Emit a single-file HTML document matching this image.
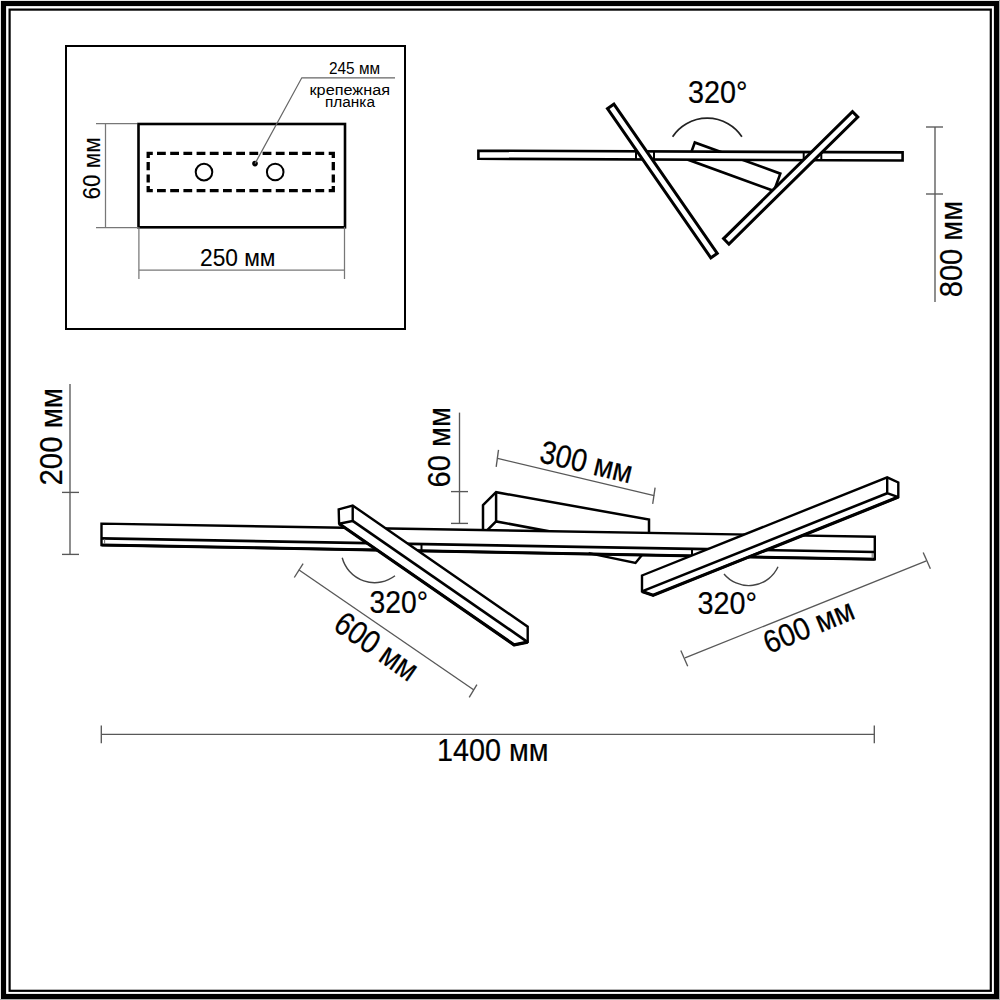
<!DOCTYPE html>
<html><head><meta charset="utf-8">
<style>
html,body{margin:0;padding:0;background:#fff;width:1000px;height:1000px;overflow:hidden}
svg{display:block}
text{font-family:"Liberation Sans",sans-serif;fill:#000;stroke:#000;stroke-width:0.22}
.b{fill:#fff;stroke:#000;stroke-linejoin:miter}
.d{fill:none;stroke:#585858;stroke-width:1.35}
.di{fill:none;stroke:#777;stroke-width:1.25}
</style></head><body>
<svg width="1000" height="1000" viewBox="0 0 1000 1000">
<rect x="0" y="0" width="1000" height="1000" fill="#fff"/>
<!-- page border -->
<rect x="3.5" y="3.5" width="993" height="993" fill="none" stroke="#000" stroke-width="5.2"/>
<rect x="9.6" y="9.6" width="981.2" height="981.2" fill="none" stroke="#000" stroke-width="2.2"/>
<rect x="999" y="0" width="1" height="1000" fill="#aaa"/><rect x="0" y="999" width="1000" height="1" fill="#aaa"/>

<!-- ===== inset box ===== -->
<rect x="66" y="46" width="339" height="283" fill="none" stroke="#000" stroke-width="2"/>
<rect x="138.5" y="124" width="206.5" height="103.3" fill="none" stroke="#000" stroke-width="2.6"/>
<path d="M148.2,157.9V153.3H152.79999999999998M328.7,153.3H333.3V157.9M333.3,186.1V190.7H328.7M152.79999999999998,190.7H148.2V186.1M157.0,153.3H165.8M157.0,190.7H165.8M170.2,153.3H179.0M170.2,190.7H179.0M183.4,153.3H192.2M183.4,190.7H192.2M196.6,153.3H205.4M196.6,190.7H205.4M209.8,153.3H218.6M209.8,190.7H218.6M223.0,153.3H231.8M223.0,190.7H231.8M236.2,153.3H245.0M236.2,190.7H245.0M249.4,153.3H258.2M249.4,190.7H258.2M262.6,153.3H271.4M262.6,190.7H271.4M275.8,153.3H284.6M275.8,190.7H284.6M289.0,153.3H297.8M289.0,190.7H297.8M302.2,153.3H311.0M302.2,190.7H311.0M315.4,153.3H324.2M315.4,190.7H324.2M148.2,162V170.2M333.3,162V170.2M148.2,174.4V182.4M333.3,174.4V182.4" fill="none" stroke="#000" stroke-width="3.3" stroke-linecap="butt" stroke-linejoin="miter"/>
<circle cx="204" cy="172.1" r="8.3" fill="none" stroke="#000" stroke-width="2"/>
<circle cx="275.2" cy="172" r="8.3" fill="none" stroke="#000" stroke-width="2"/>
<circle cx="255" cy="163.6" r="2.8" fill="#000"/>
<polyline points="255,163.6 301.8,77.8 395,77.8" fill="none" stroke="#666" stroke-width="1.2"/>
<text style="stroke-width:0" x="329" y="73.5" font-size="16" textLength="51" lengthAdjust="spacingAndGlyphs">245 мм</text>
<text style="stroke-width:0" x="309.5" y="95" font-size="15.5" textLength="80.5" lengthAdjust="spacingAndGlyphs">крепежная</text>
<text style="stroke-width:0" x="325" y="107" font-size="15.5" textLength="50" lengthAdjust="spacingAndGlyphs">планка</text>
<!-- 60 mm inset -->
<line x1="105.5" y1="123.5" x2="105.5" y2="227.5" class="di"/>
<line x1="96" y1="123.5" x2="137" y2="123.5" class="di"/>
<line x1="96" y1="227.5" x2="138" y2="227.5" class="di"/>
<text style="stroke-width:0.1" transform="translate(100.4,199.4) rotate(-90)" font-size="23.6" textLength="62" lengthAdjust="spacingAndGlyphs">60 мм</text>
<!-- 250 mm -->
<line x1="138.9" y1="227" x2="138.9" y2="279" class="di"/>
<line x1="344.5" y1="227" x2="344.5" y2="279" class="di"/>
<line x1="138.9" y1="270.2" x2="344.5" y2="270.2" class="di"/>
<text style="stroke-width:0.1" x="200" y="265.7" font-size="24" textLength="75.5" lengthAdjust="spacingAndGlyphs">250 мм</text>

<!-- ===== top view ===== -->
<path d="M707.25,159.9 m-34.65,-23.2 A41.7,41.7 0 0 1 741.9,136.7" fill="none" stroke="#222" stroke-width="1.7"/>
<text x="688" y="103" font-size="31" textLength="59.5" lengthAdjust="spacingAndGlyphs">320°</text>
<rect class="b" stroke-width="2.6" x="0" y="0" width="91" height="18.5" transform="translate(694.8,142.5) rotate(20)"/>
<polygon class="b" stroke-width="2.6" points="478.4,150.7 902.6,152.4 902.6,160.5 478.4,158.8"/>
<line x1="636" y1="151.2" x2="636" y2="159.5" stroke="#000" stroke-width="2"/>
<line x1="654" y1="151.3" x2="654" y2="159.6" stroke="#000" stroke-width="2"/>
<line x1="803.7" y1="151.9" x2="803.7" y2="160.1" stroke="#000" stroke-width="2"/>
<line x1="821.3" y1="152" x2="821.3" y2="160.2" stroke="#000" stroke-width="2"/>
<rect class="b" stroke-width="3" x="-90" y="-3.9" width="181.5" height="7.8" transform="translate(661.95,180.4) rotate(55.3)"/>
<rect class="b" stroke-width="3" x="-90.5" y="-3.8" width="181" height="7.6" transform="translate(790.7,177.8) rotate(135.4)"/>
<!-- 800 mm -->
<line x1="935" y1="127" x2="935" y2="302" class="d"/>
<line x1="926" y1="127" x2="943" y2="127" class="d"/>
<line x1="926" y1="194" x2="943" y2="194" class="d"/>
<text transform="translate(962.2,297.2) rotate(-90)" font-size="31.3" textLength="96.5" lengthAdjust="spacingAndGlyphs">800 мм</text>

<!-- ===== bottom view ===== -->
<!-- 200 mm -->
<line x1="70" y1="384" x2="70" y2="555" class="d"/>
<line x1="62" y1="492.4" x2="79" y2="492.4" class="d"/>
<line x1="62" y1="554.4" x2="79" y2="554.4" class="d"/>
<text transform="translate(62.2,485.5) rotate(-90)" font-size="31.3" textLength="97.5" lengthAdjust="spacingAndGlyphs">200 мм</text>
<!-- 60 mm -->
<line x1="459.5" y1="412.6" x2="459.5" y2="523.4" class="d"/>
<line x1="451" y1="491.6" x2="468" y2="491.6" class="d"/>
<line x1="451" y1="523.4" x2="468" y2="523.4" class="d"/>
<text transform="translate(449.8,487.4) rotate(-90)" font-size="31.3" textLength="80.5" lengthAdjust="spacingAndGlyphs">60 мм</text>
<!-- 300 mm -->
<line x1="497.6" y1="458.4" x2="654.2" y2="495.7" class="d"/>
<line x1="498.5" y1="449.8" x2="496.2" y2="466.9" class="d"/>
<line x1="655.1" y1="487.6" x2="652.7" y2="503.8" class="d"/>
<text transform="translate(538.3,461.8) rotate(13.4)" font-size="32" textLength="94" lengthAdjust="spacingAndGlyphs">300 мм</text>

<!-- body block -->
<polygon class="b" stroke-width="2.5" points="483,505.2 496.1,492.2 649,519.5 649,550.1 496.1,521.4 483,534.4"/>
<line x1="496.1" y1="492.2" x2="496.1" y2="521.4" stroke="#000" stroke-width="2.5"/>
<!-- long bar -->
<polygon class="b" stroke-width="2.4" points="101.5,523.6 874.8,536.8 874.8,559.2 101.5,545"/>
<line x1="101.5" y1="538.4" x2="874.8" y2="552" stroke="#000" stroke-width="2.7"/>
<line x1="101.5" y1="545" x2="874.8" y2="559.2" stroke="#000" stroke-width="3"/>
<line x1="104.6" y1="539.5" x2="104.6" y2="544" stroke="#777" stroke-width="1.1"/>
<line x1="872.2" y1="553" x2="872.2" y2="558.2" stroke="#777" stroke-width="1.1"/>
<line x1="421.5" y1="544.2" x2="421.5" y2="551" stroke="#000" stroke-width="2"/>
<line x1="692" y1="548.3" x2="692" y2="555" stroke="#000" stroke-width="2"/>
<!-- under bracket -->
<polyline points="588.6,553.1 635.5,562.9 641.8,555.2" fill="none" stroke="#000" stroke-width="2.4"/>
<!-- left bar -->
<polygon class="b" stroke-width="2.4" points="338.7,509.3 352.7,505.5 527.7,626.7 527.7,642.1 514.1,644.9 339.1,523.7"/>
<polyline points="352.7,505.5 352.7,520.9 339.1,523.7" fill="none" stroke="#000" stroke-width="2.4"/>
<line x1="352.7" y1="520.9" x2="527.7" y2="642.1" stroke="#000" stroke-width="2.6"/>
<polyline points="339.1,523.7 514.1,644.9 527.7,642.1" fill="none" stroke="#000" stroke-width="3.2" stroke-linejoin="round"/>
<!-- right bar -->
<g transform="translate(0,0.5)">
<polygon class="b" stroke-width="2.4" points="642,575 887.2,476.8 898.3,481.9 898.3,496.6 653.1,594.8 642,590.9"/>
<polyline points="887.2,476.8 887.2,492.7 898.3,496.6" fill="none" stroke="#000" stroke-width="2.4"/>
<line x1="887.2" y1="492.7" x2="642" y2="590.9" stroke="#000" stroke-width="2.6"/>
<polyline points="642,590.9 653.1,594.8 898.3,496.6" fill="none" stroke="#000" stroke-width="3.2" stroke-linejoin="round"/>
</g>

<!-- arcs & 320 -->
<path d="M342.2,557.8 A33.6,33.6 0 0 0 395,575.8" fill="none" stroke="#444" stroke-width="1.4"/>
<text x="369.6" y="613.2" font-size="30.5" textLength="58.5" lengthAdjust="spacingAndGlyphs">320°</text>
<path d="M724,574 A32.2,32.2 0 0 0 778,566.8" fill="none" stroke="#444" stroke-width="1.4"/>
<text x="697.6" y="614" font-size="30.5" textLength="59.5" lengthAdjust="spacingAndGlyphs">320°</text>

<!-- 600 mm left -->
<line x1="298.7" y1="569.8" x2="473.6" y2="689.7" class="d"/>
<line x1="294.3" y1="577.5" x2="303.1" y2="563.6" class="d"/>
<line x1="469.2" y1="697.4" x2="476.9" y2="684.7" class="d"/>
<text transform="translate(331.8,628.5) rotate(35) scale(1,1.04)" font-size="31.5" textLength="94" lengthAdjust="spacingAndGlyphs">600 мм</text>
<!-- 600 mm right -->
<line x1="685" y1="657.9" x2="926.4" y2="560.8" class="d"/>
<line x1="680.8" y1="650.4" x2="687.7" y2="666.3" class="d"/>
<line x1="923.2" y1="552.4" x2="930.4" y2="568.8" class="d"/>
<text transform="translate(768.8,654) rotate(-22.3)" font-size="31.5" textLength="95" lengthAdjust="spacingAndGlyphs">600 мм</text>
<!-- 1400 mm -->
<line x1="101.3" y1="734.3" x2="874.3" y2="734.3" class="d"/>
<line x1="101.3" y1="725.5" x2="101.3" y2="743.2" class="d"/>
<line x1="874.3" y1="725.5" x2="874.3" y2="743.2" class="d"/>
<text x="437" y="760.7" font-size="31.3" textLength="111.5" lengthAdjust="spacingAndGlyphs">1400 мм</text>
</svg>
</body></html>
